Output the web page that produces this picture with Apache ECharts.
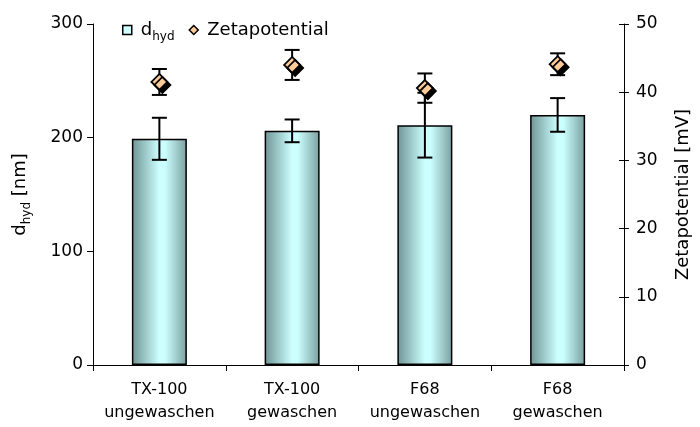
<!DOCTYPE html>
<html><head><meta charset="utf-8">
<script src="https://cdn.jsdelivr.net/npm/echarts@6/dist/echarts.min.js"></script>
<style>html,body{margin:0;padding:0;background:#fff}#c{width:700px;height:427px}</style>
</head><body><div id="c"></div>
<script>
const categories = ['TX-100\nungewaschen', 'TX-100\ngewaschen', 'F68\nungewaschen', 'F68\ngewaschen'];
const dhyd = [199, 206, 211, 220];
const dhydErr = [18.5, 10, 28.5, 14.8];
const zeta = [41.5, 44.0, 40.6, 44.1];
const zetaErr = [1.9, 2.2, 2.15, 1.6];
const leftAxisRange = [0, 300, 100];
const rightAxisRange = [0, 50, 10];

const FONT = 'DejaVu Sans';
const chart = echarts.init(document.getElementById('c'), null, {renderer: 'canvas'});

function errRender(params, api) {
  const i = api.value(0);
  const x = api.coord([i, api.value(1)])[0];
  const top = api.coord([i, api.value(2)])[1];
  const bot = api.coord([i, api.value(1)])[1];
  const w = 7.5;
  const st = {stroke: '#000', lineWidth: 2};
  return {type: 'group', children: [
    {type: 'line', shape: {x1: x, y1: top, x2: x, y2: bot}, style: st},
    {type: 'line', shape: {x1: x - w, y1: top, x2: x + w, y2: top}, style: st},
    {type: 'line', shape: {x1: x - w, y1: bot, x2: x + w, y2: bot}, style: st}
  ]};
}

const rich = {
  a: {fontFamily: FONT, fontSize: 18, color: '#000'},
  b: {fontFamily: FONT, fontSize: 12, color: '#000', padding: [14, 0, 0, 0]}
};

const barGrad = new echarts.graphic.LinearGradient(0, 0, 1, 0, [
  {offset: 0, color: '#6f9494'},
  {offset: 0.5, color: '#ccffff'},
  {offset: 0.6, color: '#ccffff'},
  {offset: 1, color: '#7a9f9f'}
]);

chart.setOption({
  animation: false,
  backgroundColor: '#fff',
  grid: {left: 93, right: 71, top: 24, bottom: 62, containLabel: false},
  legend: {
    left: 117, top: 16, itemGap: 14, itemWidth: 9, itemHeight: 9,
    data: [
      {name: 'd_hyd', icon: 'rect', itemStyle: {color: '#ccffff', borderColor: '#000', borderWidth: 1.5, shadowColor: 'transparent'}},
      {name: 'Zetapotential', icon: 'diamond', itemStyle: {color: '#ffcc99', borderColor: '#000', borderWidth: 1.5, shadowColor: 'transparent'}}
    ],
    formatter: function (n) { return n === 'd_hyd' ? '{a|d}{b|hyd}' : '{a|' + n + '}'; },
    textStyle: {fontFamily: FONT, fontSize: 18, color: '#000', rich: rich, padding: [0, 0, 0, 4]}
  },
  xAxis: {
    type: 'category', data: categories,
    axisLine: {lineStyle: {color: '#000', width: 1}},
    axisTick: {show: true, length: 6, interval: 0, lineStyle: {color: '#000'}},
    axisLabel: {fontFamily: FONT, fontSize: 16, color: '#000', lineHeight: 23, margin: 13, interval: 0}
  },
  yAxis: [
    {
      type: 'value', min: leftAxisRange[0], max: leftAxisRange[1], interval: leftAxisRange[2], position: 'left',
      name: '{a|d}{b|hyd}{a| [nm]}', nameLocation: 'middle', nameGap: 60,
      nameTextStyle: {rich: rich},
      axisLine: {show: true, lineStyle: {color: '#000', width: 1}},
      axisTick: {show: true, length: 6, lineStyle: {color: '#000'}},
      axisLabel: {fontFamily: FONT, fontSize: 17, color: '#000', margin: 10},
      splitLine: {show: false}
    },
    {
      type: 'value', min: rightAxisRange[0], max: rightAxisRange[1], interval: rightAxisRange[2], position: 'right',
      name: 'Zetapotential [mV]', nameLocation: 'middle', nameGap: 50,
      nameTextStyle: {fontFamily: FONT, fontSize: 18, color: '#000'},
      axisLine: {show: true, lineStyle: {color: '#000', width: 1}},
      axisTick: {show: true, length: 5, lineStyle: {color: '#000'}},
      axisLabel: {fontFamily: FONT, fontSize: 17, color: '#000', margin: 12},
      splitLine: {show: false}
    },
    {
      type: 'value', min: rightAxisRange[0], max: rightAxisRange[1], interval: rightAxisRange[2], position: 'right',
      axisLine: {show: false},
      axisTick: {show: true, inside: true, length: 5, lineStyle: {color: '#000'}},
      axisLabel: {show: false},
      splitLine: {show: false}
    }
  ],
  series: [
    {
      name: 'd_hyd', type: 'bar', yAxisIndex: 0, barWidth: 55, data: dhyd,
      itemStyle: {color: barGrad, borderColor: '#000', borderWidth: 1.5}
    },
    {
      type: 'custom', yAxisIndex: 0, renderItem: errRender, z: 3,
      data: dhyd.map(function (v, i) { return [i, v - dhydErr[i], v + dhydErr[i]]; })
    },
    {
      type: 'custom', yAxisIndex: 1, renderItem: errRender, z: 4,
      data: zeta.map(function (v, i) { return [i, v - zetaErr[i], v + zetaErr[i]]; })
    },
    {
      name: 'Zetapotential', type: 'scatter', yAxisIndex: 1, symbol: 'diamond', symbolSize: 16, z: 5,
      data: zeta,
      itemStyle: {color: '#ffcc99', borderColor: '#000', borderWidth: 1.8, shadowColor: '#000', shadowBlur: 0, shadowOffsetX: 3, shadowOffsetY: 3, opacity: 1}
    }
  ]
});
</script>
</body></html>
